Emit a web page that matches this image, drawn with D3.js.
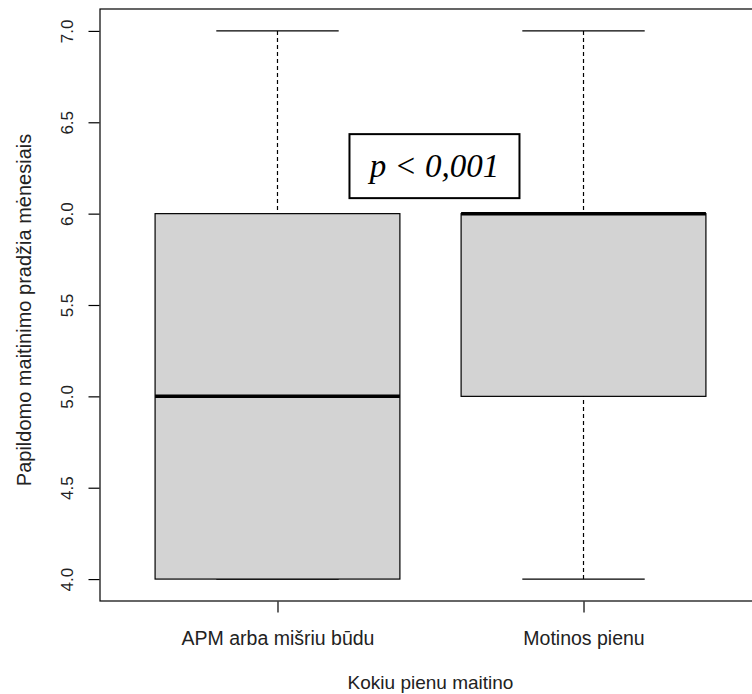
<!DOCTYPE html>
<html>
<head>
<meta charset="utf-8">
<script src="https://cdn.jsdelivr.net/npm/d3@7"></script>
<style>
  body { margin: 0; background: #fff; }
  svg { display: block; font-family: "Liberation Sans", Arial, sans-serif; }
</style>
</head>
<body>
<div id="chart"></div>
<script>
// groups and five-number summaries
var groups = ["APM arba mišriu būdu", "Motinos pienu"];
var mins = [4, 4];
var q1s = [4, 5];
var medians = [5, 6];
var q3s = [6, 6];
var maxs = [7, 7];
var yTicks = [4.0, 4.5, 5.0, 5.5, 6.0, 6.5, 7.0];
var annotation = "p < 0,001";

var W = 752, H = 694;
var margin = { left: 100, top: 9, right: -9, bottom: 93 };

var svg = d3.select("#chart").append("svg")
    .attr("width", W).attr("height", H);

// R style: xlim 0.5..n+0.5 extended by 4%
var x = d3.scaleLinear()
    .domain([0.42, 2.58])
    .range([margin.left, W - margin.right]);
var y = d3.scaleLinear()
    .domain([3.88, 7.12])
    .range([H - margin.bottom, margin.top]);

var data = groups.map(function(g, i) {
    return { name: g, pos: i + 1, min: mins[i], q1: q1s[i], med: medians[i], q3: q3s[i], max: maxs[i] };
});

var boxW = 0.8;
var dash = "4,3";

var g = svg.append("g");

var box = g.selectAll(".box").data(data).enter().append("g").attr("class", "box");

// whiskers
box.append("line")
    .attr("x1", function(d) { return x(d.pos); })
    .attr("x2", function(d) { return x(d.pos); })
    .attr("y1", function(d) { return y(d.max); })
    .attr("y2", function(d) { return y(d.q3); })
    .attr("stroke", "#000").attr("stroke-width", 1.2).attr("stroke-dasharray", dash);
box.append("line")
    .attr("x1", function(d) { return x(d.pos); })
    .attr("x2", function(d) { return x(d.pos); })
    .attr("y1", function(d) { return y(d.min); })
    .attr("y2", function(d) { return y(d.q1); })
    .attr("stroke", "#000").attr("stroke-width", 1.2).attr("stroke-dasharray", dash);

// caps
[function(d) { return d.max; }, function(d) { return d.min; }].forEach(function(f) {
    box.append("line")
        .attr("x1", function(d) { return x(d.pos - boxW / 4); })
        .attr("x2", function(d) { return x(d.pos + boxW / 4); })
        .attr("y1", function(d) { return y(f(d)); })
        .attr("y2", function(d) { return y(f(d)); })
        .attr("stroke", "#000").attr("stroke-width", 1.2);
});

// boxes
box.append("rect")
    .attr("x", function(d) { return x(d.pos - boxW / 2); })
    .attr("width", function(d) { return x(d.pos + boxW / 2) - x(d.pos - boxW / 2); })
    .attr("y", function(d) { return y(d.q3); })
    .attr("height", function(d) { return y(d.q1) - y(d.q3); })
    .attr("fill", "#d3d3d3").attr("stroke", "#000").attr("stroke-width", 1.2);

// medians
box.append("line")
    .attr("x1", function(d) { return x(d.pos - boxW / 2); })
    .attr("x2", function(d) { return x(d.pos + boxW / 2); })
    .attr("y1", function(d) { return y(d.med); })
    .attr("y2", function(d) { return y(d.med); })
    .attr("stroke", "#000").attr("stroke-width", 3.5);

// frame
svg.append("rect")
    .attr("x", x.range()[0]).attr("y", y.range()[1])
    .attr("width", x.range()[1] - x.range()[0])
    .attr("height", y.range()[0] - y.range()[1])
    .attr("fill", "none").attr("stroke", "#000").attr("stroke-width", 1.2);

// y axis
var yAxis = svg.append("g")
    .attr("transform", "translate(" + (x.range()[0] - 0.5) + ",0)")
    .call(d3.axisLeft(y).tickValues(yTicks).tickFormat(d3.format(".1f")).tickSize(11).tickSizeOuter(0));
yAxis.select(".domain").remove();
yAxis.selectAll("line").attr("stroke", "#000").attr("stroke-width", 1.2);
yAxis.selectAll("text")
    .attr("font-size", 17).attr("fill", "#222")
    .attr("x", 0).attr("y", 0).attr("dy", 0)
    .attr("transform", "translate(-26.5,0) rotate(-90)")
    .attr("text-anchor", "middle");

// x axis
var xAxis = svg.append("g")
    .attr("transform", "translate(0," + (y.range()[0] + 0.5) + ")")
    .call(d3.axisBottom(x).tickValues([1, 2]).tickFormat(function(d) { return groups[d - 1]; }).tickSize(11).tickSizeOuter(0));
xAxis.select(".domain").remove();
xAxis.selectAll("line").attr("stroke", "#000").attr("stroke-width", 1.2);
xAxis.selectAll("text").attr("font-size", 19.5).attr("fill", "#222").attr("y", 43).attr("dy", 0);

// axis titles
svg.append("text")
    .attr("x", (x.range()[0] + x.range()[1]) / 2).attr("y", 689)
    .attr("text-anchor", "middle")
    .attr("font-size", 19).attr("fill", "#222")
    .text("Kokiu pienu maitino");
svg.append("text")
    .attr("transform", "translate(31,310) rotate(-90)")
    .attr("text-anchor", "middle")
    .attr("font-size", 20).attr("fill", "#222")
    .text("Papildomo maitinimo pradžia mėnesiais");

// annotation box
var ax = x(1.513), ay = y(6.26);
var note = svg.append("g");
note.append("rect")
    .attr("x", ax - 85).attr("y", ay - 32).attr("width", 170).attr("height", 64)
    .attr("fill", "#fff").attr("stroke", "#000").attr("stroke-width", 2);
note.append("text")
    .attr("x", ax).attr("y", ay)
    .attr("text-anchor", "middle").attr("dominant-baseline", "central")
    .attr("font-family", "'Liberation Serif', 'Times New Roman', serif")
    .attr("font-style", "italic").attr("font-size", 33)
    .text(annotation);
</script>
</body>
</html>
